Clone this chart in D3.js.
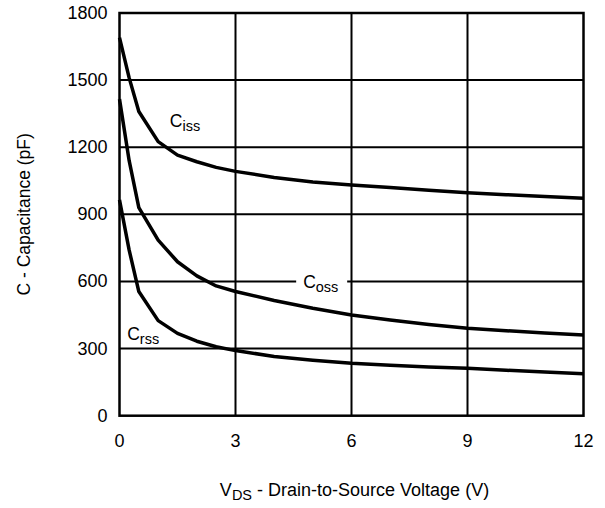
<!DOCTYPE html>
<html>
<head>
<meta charset="utf-8">
<script src="https://cdn.jsdelivr.net/npm/d3@7"></script>
<style>
  body { margin: 0; background: #fff; }
  text { font-family: "Liberation Sans", Arial, sans-serif; fill: #000; }
</style>
</head>
<body>
<div id="chart"></div>
<script>
// drain-source voltage (V)
const vds = [0, 0.25, 0.5, 1, 1.5, 2, 2.5, 3, 4, 5, 6, 7, 8, 9, 10, 11, 12];
// capacitance (pF)
const ciss = [1690, 1510, 1360, 1225, 1165, 1135, 1110, 1092, 1065, 1045, 1031, 1020, 1008, 997, 988, 980, 972];
const coss = [1415, 1140, 930, 785, 688, 625, 580, 555, 515, 480, 450, 428, 408, 391, 380, 370, 361];
const crss = [965, 740, 555, 425, 368, 333, 308, 291, 265, 248, 234, 225, 218, 212, 203, 195, 188];

const xTicks = [0, 3, 6, 9, 12];
const yTicks = [0, 300, 600, 900, 1200, 1500, 1800];

const W = 605, H = 508;
const margin = {top: 13, right: 21.5, bottom: 92.3, left: 119.5};
const width = W - margin.left - margin.right;
const height = H - margin.top - margin.bottom;

const svg = d3.select("#chart").append("svg")
    .attr("width", W)
    .attr("height", H);

const g = svg.append("g")
    .attr("transform", `translate(${margin.left},${margin.top})`);

const x = d3.scaleLinear().domain([0, 12]).range([0, width]);
const y = d3.scaleLinear().domain([0, 1800]).range([height, 0]);

// grid
g.selectAll(".vgrid")
    .data(xTicks.slice(1, -1))
    .enter().append("line")
    .attr("x1", d => x(d)).attr("x2", d => x(d))
    .attr("y1", 0).attr("y2", height)
    .attr("stroke", "#000").attr("stroke-width", 2);

g.selectAll(".hgrid")
    .data(yTicks.slice(1, -1))
    .enter().append("line")
    .attr("x1", 0).attr("x2", width)
    .attr("y1", d => y(d)).attr("y2", d => y(d))
    .attr("stroke", "#000").attr("stroke-width", 2);

// frame
g.append("rect")
    .attr("width", width).attr("height", height)
    .attr("fill", "none").attr("stroke", "#000").attr("stroke-width", 2.5);

// tick labels
g.selectAll(".xlab")
    .data(xTicks)
    .enter().append("text")
    .attr("x", d => x(d))
    .attr("y", height + 31)
    .attr("text-anchor", "middle")
    .style("font-size", "18px")
    .text(d => d);

g.selectAll(".ylab")
    .data(yTicks)
    .enter().append("text")
    .attr("x", -12)
    .attr("y", d => y(d) + 6)
    .attr("text-anchor", "end")
    .style("font-size", "18px")
    .text(d => d);

// curves
const line = d3.line()
    .x(d => x(d[0]))
    .y(d => y(d[1]));

[ciss, coss, crss].forEach(s => {
    g.append("path")
        .datum(vds.map((v, i) => [v, s[i]]))
        .attr("d", line)
        .attr("fill", "none")
        .attr("stroke", "#000")
        .attr("stroke-width", 3.5)
        .attr("stroke-linejoin", "round");
});

// curve labels
function capLabel(px, py, sub, knockout) {
    if (knockout) {
        g.append("rect")
            .attr("x", px - 7).attr("y", py - 15)
            .attr("width", 51).attr("height", 24)
            .attr("fill", "#fff");
    }
    const t = g.append("text")
        .attr("x", px).attr("y", py)
        .style("font-size", "17.5px");
    t.append("tspan").text("C");
    t.append("tspan").attr("dy", 4).style("font-size", "14.5px").text(sub);
}
capLabel(x(1.3), y(1290), "iss", false);
capLabel(x(4.75), y(600) + 6.5, "oss", true);
capLabel(x(0.2), y(340), "rss", false);

// axis titles
const xt = g.append("text")
    .attr("x", width / 2 + 3)
    .attr("y", height + 80)
    .attr("text-anchor", "middle")
    .style("font-size", "18px");
xt.append("tspan").text("V");
xt.append("tspan").attr("dy", 4).style("font-size", "14.5px").text("DS");
xt.append("tspan").attr("dy", -4).text(" - Drain-to-Source Voltage (V)");

svg.append("text")
    .attr("transform", `translate(29.5,${margin.top + height / 2}) rotate(-90)`)
    .attr("text-anchor", "middle")
    .style("font-size", "17.5px")
    .text("C  -  Capacitance (pF)");
</script>
</body>
</html>
